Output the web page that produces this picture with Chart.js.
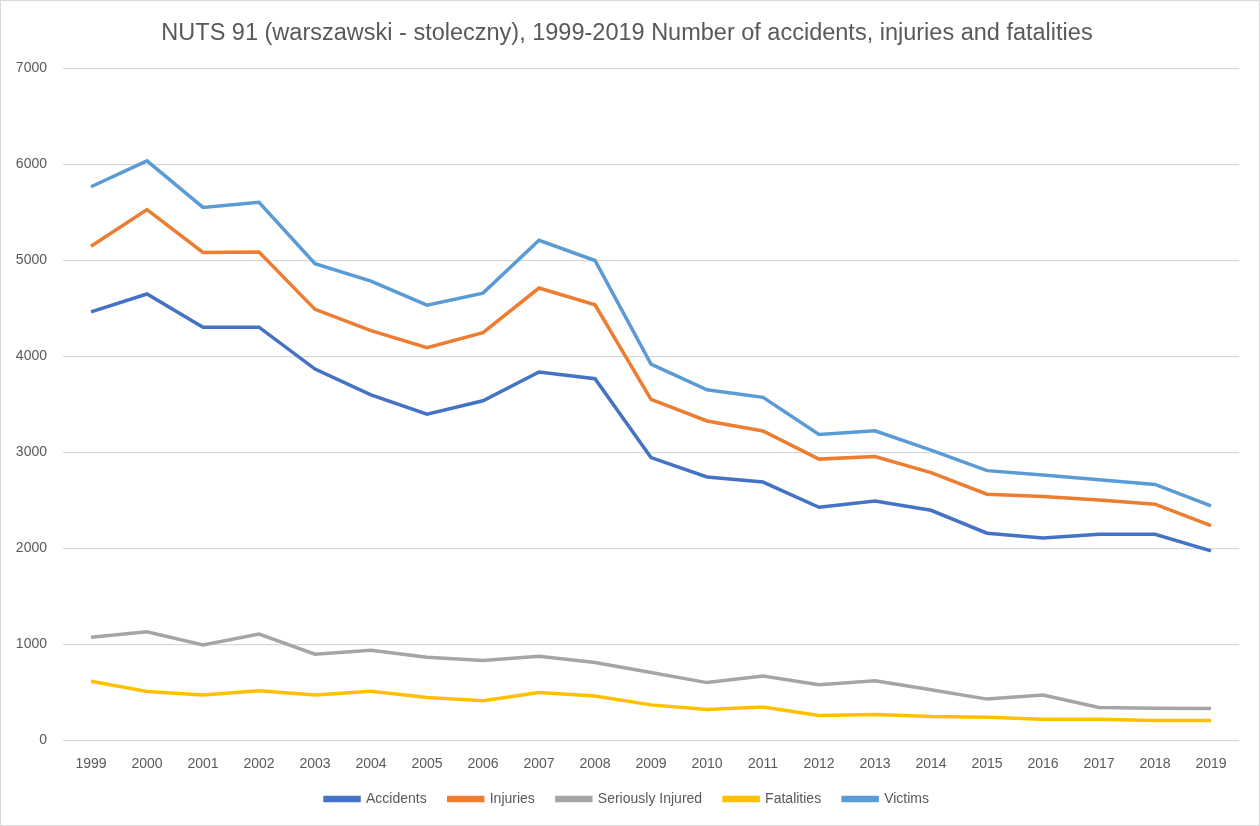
<!DOCTYPE html>
<html>
<head>
<meta charset="utf-8">
<script src="https://cdn.jsdelivr.net/npm/chart.js@4/dist/chart.umd.min.js"></script>
<style>
html,body{margin:0;padding:0;background:#fff;}
#wrap{position:absolute;left:0;top:0;width:1258px;height:824px;border:1px solid #d9d9d9;}
</style>
</head>
<body>
<div id="wrap"><canvas id="c" width="1258" height="824"></canvas></div>
<script>
const years = ["1999","2000","2001","2002","2003","2004","2005","2006","2007","2008","2009","2010","2011","2012","2013","2014","2015","2016","2017","2018","2019"];
const accidents = [4462,4648,4302,4302,3866,3598,3396,3536,3835,3765,2944,2742,2689,2426,2491,2395,2156,2106,2145,2145,1972];
const injuries = [5145,5527,5081,5086,4488,4266,4088,4246,4710,4535,3550,3325,3221,2928,2955,2788,2562,2538,2502,2458,2234];
const seriouslyInjured = [1072,1130,991,1105,896,937,864,830,874,809,705,600,669,577,620,525,428,470,341,334,331];
const fatalities = [614,507,470,514,470,510,444,412,496,460,368,320,345,258,268,246,240,219,219,205,206];
const victims = [5765,6035,5550,5603,4963,4782,4532,4657,5208,4997,3918,3650,3571,3185,3223,3022,2808,2763,2714,2664,2442];
const yTicks = [0,1000,2000,3000,4000,5000,6000,7000];

const mk = (label, data, color) => ({label, data, borderColor: color, backgroundColor: color, borderWidth: 3.5, pointRadius: 0, tension: 0, fill: false});

new Chart(document.getElementById('c'), {
  type: 'line',
  data: {
    labels: years,
    datasets: [
      mk('Accidents', accidents, '#4472C4'),
      mk('Injuries', injuries, '#ED7D31'),
      mk('Seriously Injured', seriouslyInjured, '#A5A5A5'),
      mk('Fatalities', fatalities, '#FFC000'),
      mk('Victims', victims, '#5B9BD5')
    ]
  },
  options: {
    responsive: false,
    animation: false,
    layout: {padding: {left: 14, right: 20, top: 7, bottom: 9}},
    plugins: {
      title: {display: true, text: 'NUTS 91 (warszawski - stoleczny), 1999-2019 Number of accidents, injuries and fatalities', color: '#595959', font: {family: 'Liberation Sans', size: 23.5, weight: 'normal'}, padding: {top: 11, bottom: 21}},
      legend: {position: 'bottom', labels: {color: '#595959', font: {family: 'Liberation Sans', size: 14}, boxWidth: 34, boxHeight: 3, padding: 22}},
      tooltip: {enabled: false}
    },
    scales: {
      x: {offset: true, grid: {display: false}, border: {display: false}, ticks: {color: '#595959', font: {family: 'Liberation Sans', size: 14}, padding: 8, maxRotation: 0}, afterFit: (s) => { s.height -= 11; }},
      y: {min: 0, max: 7000, afterBuildTicks: (a) => { a.ticks = yTicks.map(v => ({value: v})); }, afterFit: (s) => { s.width = 48; }, grid: {color: '#d9d9d9', lineWidth: 1.3, drawTicks: false}, border: {display: false}, ticks: {color: '#595959', font: {family: 'Liberation Sans', size: 14}, padding: 16, callback: (v) => String(v)}}
    }
  }
});
</script>
</body>
</html>
